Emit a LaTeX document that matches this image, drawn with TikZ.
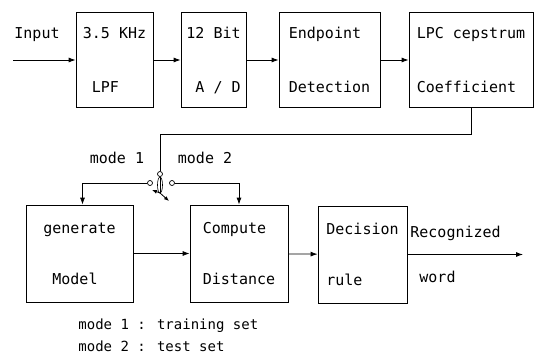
\documentclass[tikz,border=0pt]{standalone}
\usepackage{fontspec}
\usetikzlibrary{arrows.meta}
\newfontfamily\dotfont{DejaVu Sans Mono}

\begin{document}
\begin{tikzpicture}[x=1pt,y=-1pt,line width=.8pt,
blk/.style={draw,minimum height=95pt,inner sep=3pt,align=left,font=\dotfont\fontsize{15}{54}\selectfont},
blkb/.style={blk,minimum height=97pt,font=\dotfont\fontsize{15}{51}\selectfont},
arr/.style={-{Latex[length=7pt,width=5pt]}},
small/.style={-{Latex[length=5pt,width=4pt]}},
contact/.style={circle,draw,line width=.7pt,inner sep=0pt,minimum size=5pt,fill=white},
lab/.style={font=\dotfont\fontsize{15}{18}\selectfont,inner sep=1pt},
legend/.style={font=\dotfont\fontsize{14}{18}\selectfont,inner sep=0pt,anchor=west}]
\useasboundingbox (0,0) rectangle (535,356);
\node[lab] (inp) at (37,35) {Input};
\coordinate (src) at (13,60);
\node[blk,minimum width=77pt] (lpf) at (114.5,60) {3.5 KHz\\\ LPF};
\node[blk,minimum width=65pt] (ad) at (213.5,60) {12 Bit\\\ A / D};
\node[blk,minimum width=101pt] (endp) at (329.5,60) {Endpoint\\Detection};
\node[blk,minimum width=124pt] (lpc) at (471,60) {LPC cepstrum\\Coefficient};
\draw[arr] (src)--(lpf);
\draw[arr] (lpf)--(ad);
\draw[arr] (ad)--(endp);
\draw[arr] (endp)--(lpc);
\node[contact] (piv) at (160,174) {};
\node[contact] (c1) at (150,183) {};
\node[contact] (c2) at (172,183) {};
\coordinate (arm) at (160,193);
\draw (lpc.south)--++(0,26)-|(piv);
\draw (piv)--(arm);
\draw[line width=.6pt] (160,185) ellipse (2.5 and 8);
\draw[small] (arm)--++(9,8);
\draw[small] (arm)--++(-8,-3);
\node[lab] (m1) at (117,158) {mode 1};
\node[lab] (m2) at (205,158) {mode 2};
\node[blkb,minimum width=107pt] (gen) at (79.5,253.5) {generate\\\ Model};
\node[blkb,minimum width=98pt] (cmp) at (239,253.5) {Compute\\Distance};
\node[blkb,minimum width=89pt] (dec) at (362.5,254.5) {Decision\\rule};
\node[align=left,anchor=west,inner sep=2pt,font=\dotfont\fontsize{15}{45}\selectfont] (recog) at (408,254.5) {Recognized\\\ word};
\coordinate (out) at (523,254.5);
\draw[arr] (c1)-|([xshift=3pt]gen.north);
\draw[arr] (c2)-|(cmp.north);
\draw[arr] (gen)--(cmp);
\draw[arr] (cmp)--(dec);
\draw[arr] (dec)--(out);
\node[legend] (leg1) at (78,326) {mode 1 : training set};
\node[legend] (leg2) at (78,346) {mode 2 : test set};
\end{tikzpicture}
\end{document}
